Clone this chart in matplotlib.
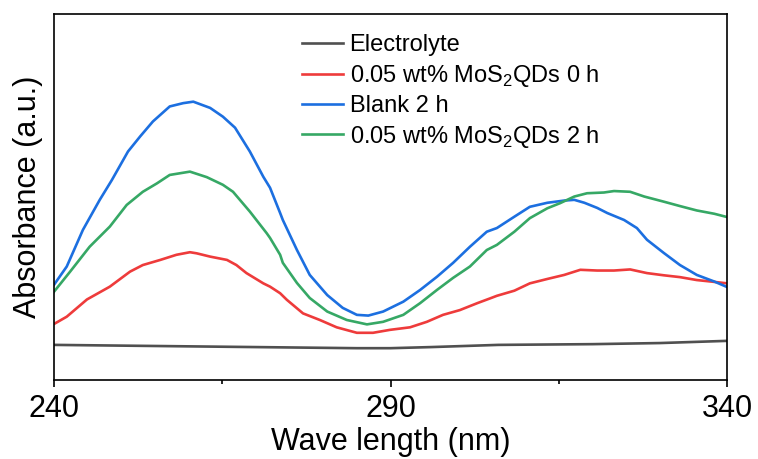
import matplotlib
matplotlib.use("Agg")
import matplotlib.pyplot as plt
import matplotlib.ticker as ticker
import numpy as np

plt.rcParams["font.family"] = ["Liberation Sans", "DejaVu Sans"]
plt.rcParams["mathtext.fontset"] = "custom"
plt.rcParams["mathtext.rm"] = "Liberation Sans"

# wavelength (nm) / absorbance (a.u.)
electrolyte_nm = [240, 255, 270, 285, 290, 296, 306, 320, 330, 340]
electrolyte_abs = [0.096, 0.093, 0.090, 0.087, 0.087, 0.090, 0.096, 0.098, 0.101, 0.107]

mos2_0h_nm = [240, 241.9, 244.9, 248.3, 251.3, 253.2, 255.8, 258.2, 260.2, 261.2,
              263.2, 265.7, 267.1, 268.6, 271.1, 272.1, 273.6, 274.6, 277.0, 279.5,
              282.0, 285.0, 287.4, 289.9, 292.9, 295.4, 297.8, 300.3, 302.9, 304.8,
              305.8, 308.4, 310.7, 313.3, 315.8, 318.2, 320.7, 323.2, 325.6, 328.1,
              330.6, 333.0, 335.5, 338.1, 340]
mos2_0h_abs = [0.153, 0.173, 0.220, 0.255, 0.296, 0.314, 0.328, 0.342, 0.349, 0.346,
               0.337, 0.328, 0.314, 0.292, 0.264, 0.255, 0.237, 0.219, 0.182, 0.164,
               0.144, 0.129, 0.129, 0.137, 0.144, 0.159, 0.178, 0.191, 0.210, 0.223,
               0.230, 0.244, 0.264, 0.276, 0.287, 0.301, 0.299, 0.299, 0.302, 0.292,
               0.286, 0.281, 0.273, 0.268, 0.264]

blank_2h_nm = [240, 241.9, 244.3, 246.8, 248.6, 251.0, 252.8, 254.7, 257.2, 259.2,
               260.7, 263.2, 265.1, 266.9, 269.1, 271.1, 272.1, 273.6, 274.0, 276.1,
               278.0, 280.6, 282.9, 285.0, 286.7, 288.9, 291.9, 294.4, 296.9, 299.3,
               301.8, 304.3, 305.8, 308.4, 310.7, 313.3, 315.8, 317.3, 318.8, 320.7,
               322.2, 324.7, 326.6, 328.1, 330.6, 333.0, 335.5, 338.1, 340]
blank_2h_abs = [0.260, 0.310, 0.410, 0.492, 0.546, 0.624, 0.665, 0.706, 0.747, 0.756,
                0.760, 0.743, 0.719, 0.689, 0.624, 0.555, 0.525, 0.456, 0.437, 0.355,
                0.287, 0.232, 0.197, 0.178, 0.176, 0.187, 0.214, 0.246, 0.282, 0.320,
                0.364, 0.405, 0.415, 0.446, 0.473, 0.484, 0.490, 0.492, 0.484, 0.470,
                0.456, 0.437, 0.415, 0.383, 0.347, 0.314, 0.287, 0.269, 0.254]

mos2_2h_nm = [240, 242.4, 245.3, 248.3, 250.8, 253.2, 255.3, 257.2, 260.2, 262.7,
              265.1, 266.6, 269.1, 271.6, 272.1, 273.6, 274.0, 276.1, 278.0, 280.6,
              283.5, 286.5, 288.9, 291.9, 294.4, 296.9, 299.3, 301.8, 304.3, 305.8,
              308.4, 310.7, 313.3, 315.2, 317.3, 319.2, 321.7, 323.2, 325.6, 327.7,
              330.6, 333.0, 335.5, 338.1, 340]
mos2_2h_abs = [0.241, 0.296, 0.364, 0.419, 0.478, 0.514, 0.537, 0.560, 0.569, 0.554,
               0.533, 0.514, 0.460, 0.401, 0.388, 0.342, 0.320, 0.265, 0.224, 0.187,
               0.164, 0.152, 0.159, 0.178, 0.210, 0.246, 0.279, 0.310, 0.355, 0.369,
               0.405, 0.442, 0.469, 0.483, 0.501, 0.510, 0.512, 0.516, 0.514, 0.501,
               0.487, 0.475, 0.463, 0.454, 0.445]

major_ticks = [240, 290, 340]
minor_ticks = [265, 315]

fig = plt.figure(figsize=(7.58, 4.59), dpi=100)
ax = fig.add_axes([0.0712, 0.172, 0.888, 0.798])

ax.plot(electrolyte_nm, electrolyte_abs, color="#505050", lw=1.9, label="Electrolyte")
ax.plot(mos2_0h_nm, mos2_0h_abs, color="#ee3b3b", lw=1.9,
        label=r"0.05 wt% MoS$_\mathrm{2}$QDs 0 h")
ax.plot(blank_2h_nm, blank_2h_abs, color="#1c6fe0", lw=1.9, label="Blank 2 h")
ax.plot(mos2_2h_nm, mos2_2h_abs, color="#36a865", lw=1.9,
        label=r"0.05 wt% MoS$_\mathrm{2}$QDs 2 h")

ax.set_xlim(240, 340)
ax.set_ylim(0, 1)
ax.xaxis.set_major_locator(ticker.FixedLocator(major_ticks))
ax.xaxis.set_minor_locator(ticker.FixedLocator(minor_ticks))
ax.set_yticks([])
ax.tick_params(axis="x", which="major", direction="out", length=5, width=1.2,
               labelsize=22, pad=5)
ax.tick_params(axis="x", which="minor", direction="out", length=3, width=1.2)
for sp in ax.spines.values():
    sp.set_linewidth(1.2)

ax.set_xlabel("Wave length (nm)", fontsize=22, labelpad=2)
ax.set_ylabel("Absorbance (a.u.)", fontsize=22, labelpad=8)

ax.legend(loc="upper left", bbox_to_anchor=(0.341, 0.995), frameon=False, fontsize=17,
          handlelength=1.7, handletextpad=0.3, labelspacing=0.27, borderpad=0.3)

fig.savefig("out.png", dpi=100)
